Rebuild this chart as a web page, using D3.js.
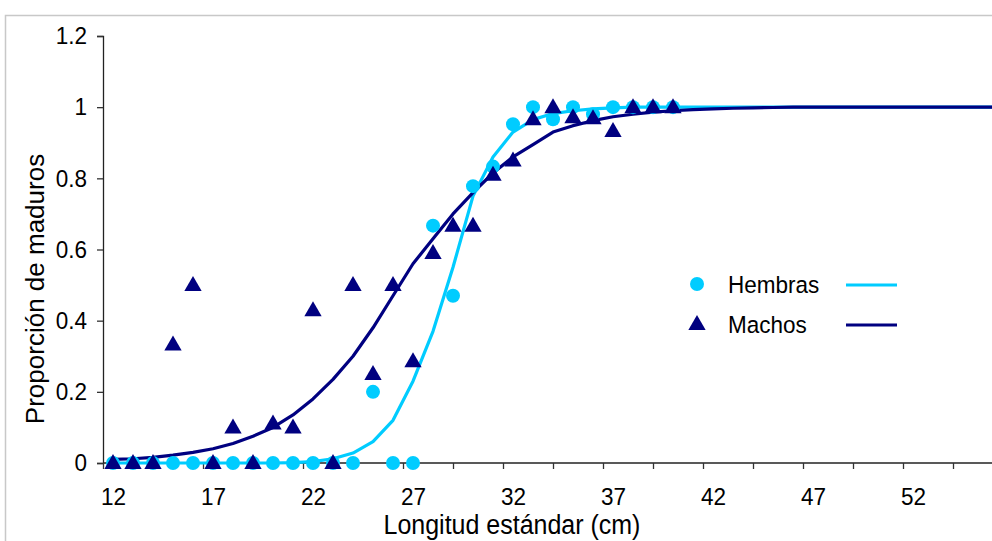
<!DOCTYPE html>
<html>
<head>
<meta charset="utf-8">
<script src="https://cdn.jsdelivr.net/npm/d3@7"></script>
<style>
  html, body { margin: 0; padding: 0; background: #ffffff; }
  svg { display: block; }
  text { font-family: Arial, "Liberation Sans", sans-serif; fill: #000; }
</style>
</head>
<body>
<svg id="chart" width="992" height="541"></svg>
<script>
// Observed proportion of mature fish by standard length (cm)
const lengths = [12, 13, 14, 15, 16, 17, 18, 19, 20, 21, 22, 23, 24, 25, 26, 27, 28, 29, 30, 31, 32, 33, 34, 35, 36, 37, 38, 39, 40];
const hembras = [0, 0, 0, 0, 0, 0, 0, 0, 0, 0, 0, 0, 0, 0.2, 0, 0, 0.667, 0.47, 0.778, 0.833, 0.952, 1, 0.966, 1, 0.98, 1, 1, 1, 1];
const machos  = [0, 0, 0, 0.333, 0.5, 0, 0.1, 0, 0.111, 0.1, 0.429, 0, 0.5, 0.25, 0.5, 0.286, 0.59, 0.667, 0.667, 0.81, 0.85, 0.966, 1, 0.972, 0.969, 0.933, 1, 1, 1];

// Fitted maturity ogives, one value per cm
const fitLengths = [12, 13, 14, 15, 16, 17, 18, 19, 20, 21, 22, 23, 24, 25, 26, 27, 28, 29, 30, 31, 32, 33, 34, 35, 36, 37, 38, 39, 40, 41, 42, 43, 44, 45, 46, 47, 48, 49, 50, 51, 52, 53, 54, 55, 56, 57];
const hembrasFit = [0, 0, 0, 0, 0, 0, 0, 0, 0, 0.001, 0.004, 0.012, 0.028, 0.06, 0.12, 0.23, 0.37, 0.55, 0.75, 0.86, 0.93, 0.965, 0.982, 0.99, 0.995, 0.998, 1, 1, 1, 1, 1, 1, 1, 1, 1, 1, 1, 1, 1, 1, 1, 1, 1, 1, 1, 1];
const machosFit  = [0.01, 0.012, 0.016, 0.022, 0.03, 0.04, 0.055, 0.075, 0.1, 0.135, 0.18, 0.235, 0.3, 0.38, 0.47, 0.56, 0.63, 0.7, 0.76, 0.815, 0.86, 0.895, 0.93, 0.948, 0.962, 0.973, 0.98, 0.986, 0.99, 0.993, 0.995, 0.997, 0.998, 0.999, 1, 1, 1, 1, 1, 1, 1, 1, 1, 1, 1, 1];

// Axis ticks and labels
const xTickMarks = [11.5, 14, 16.5, 19, 21.5, 24, 26.5, 29, 31.5, 34, 36.5, 39, 41.5, 44, 46.5, 49, 51.5, 54];
const xTickLabels = [12, 17, 22, 27, 32, 37, 42, 47, 52];
const yTickValues = [0, 0.2, 0.4, 0.6, 0.8, 1, 1.2];
const yTickLabels = ["0", "0.2", "0.4", "0.6", "0.8", "1", "1.2"];

const seriesNames = ["Hembras", "Machos"];
const colors = { hembras: "#00CCFF", machos: "#000080" };
const FONT = "Arial, 'Liberation Sans', sans-serif";
const TALL = 1.08; // text glyphs are drawn slightly taller than wide

const svg = d3.select("#chart");
const W = 992, H = 541;

// chart area frame
svg.append("rect")
  .attr("x", 5.5).attr("y", 15.5)
  .attr("width", W + 20).attr("height", H + 20)
  .attr("fill", "#ffffff")
  .attr("stroke", "#c8c8c8")
  .attr("stroke-width", 1.5);

const x = d3.scaleLinear().domain([11.5, 56]).range([103, 993]);
const y = d3.scaleLinear().domain([0, 1.2]).range([463, 36]);

// y axis
const yAxis = svg.append("g")
  .attr("transform", `translate(${x(11.5)},0)`)
  .call(d3.axisLeft(y).tickValues(yTickValues).tickSize(6).tickPadding(10)
    .tickFormat((d, i) => yTickLabels[i]));
yAxis.selectAll("text")
  .attr("font-size", 22.5).attr("font-family", FONT)
  .attr("transform", `scale(1,${TALL})`);

// x axis tick marks
const xAxis = svg.append("g")
  .attr("transform", `translate(0,${y(0)})`)
  .call(d3.axisBottom(x).tickValues(xTickMarks).tickSize(6).tickFormat(""));

// x axis labels
const xLab = svg.append("g")
  .attr("transform", `translate(0,${y(0)})`)
  .call(d3.axisBottom(x).tickValues(xTickLabels).tickSize(0).tickPadding(23)
    .tickFormat((d) => String(d)));
xLab.select(".domain").remove();
xLab.selectAll("text")
  .attr("font-size", 22.5).attr("font-family", FONT)
  .attr("transform", `scale(1,${TALL})`);

[yAxis, xAxis].forEach(g => {
  g.select(".domain").attr("stroke", "#222").attr("stroke-width", 1.3);
  g.selectAll(".tick line").attr("stroke", "#333").attr("stroke-width", 1.3);
});
// extend x axis line to the right edge
xAxis.select(".domain").attr("d", `M${x(11.5)},0H${W}`);

// fitted curves
const line = d3.line().x(d => x(d[0])).y(d => y(d[1]));
svg.append("path")
  .datum(fitLengths.map((l, i) => [l, hembrasFit[i]]))
  .attr("d", line)
  .attr("fill", "none")
  .attr("stroke", colors.hembras)
  .attr("stroke-width", 3.2)
  .attr("stroke-linejoin", "round");
svg.append("path")
  .datum(fitLengths.map((l, i) => [l, machosFit[i]]))
  .attr("d", line)
  .attr("fill", "none")
  .attr("stroke", colors.machos)
  .attr("stroke-width", 3.2)
  .attr("stroke-linejoin", "round");

// observed points
const tri = d3.symbol().type(d3.symbolTriangle).size(130);
svg.append("g").selectAll("circle")
  .data(lengths.map((l, i) => [l, hembras[i]]))
  .join("circle")
  .attr("cx", d => x(d[0]))
  .attr("cy", d => y(d[1]))
  .attr("r", 7)
  .attr("fill", colors.hembras);
svg.append("g").selectAll("path")
  .data(lengths.map((l, i) => [l, machos[i]]))
  .join("path")
  .attr("d", tri)
  .attr("transform", d => `translate(${x(d[0])},${y(d[1]) + 1})`)
  .attr("fill", colors.machos);

// axis titles
svg.append("text")
  .attr("transform", `translate(512,534) scale(1,${TALL})`)
  .attr("text-anchor", "middle")
  .attr("font-size", 25)
  .text("Longitud estándar (cm)");
svg.append("text")
  .attr("transform", "translate(44,289) rotate(-90)")
  .attr("text-anchor", "middle")
  .attr("font-size", 26)
  .text("Proporción de maduros");

// legend
const legend = svg.append("g");
const rows = [284, 324];
legend.append("circle").attr("cx", 697).attr("cy", rows[0]).attr("r", 7).attr("fill", colors.hembras);
legend.append("path").attr("d", tri).attr("transform", `translate(697,${rows[1] + 1})`).attr("fill", colors.machos);
seriesNames.forEach((n, i) => {
  legend.append("text")
    .attr("transform", `translate(728,${rows[i]}) scale(1,${TALL})`)
    .attr("dy", "0.36em")
    .attr("font-size", 22.5)
    .text(n);
});
legend.append("line").attr("x1", 846).attr("x2", 897).attr("y1", rows[0] + 1).attr("y2", rows[0] + 1)
  .attr("stroke", colors.hembras).attr("stroke-width", 3.2);
legend.append("line").attr("x1", 846).attr("x2", 897).attr("y1", rows[1] + 1).attr("y2", rows[1] + 1)
  .attr("stroke", colors.machos).attr("stroke-width", 3.2);
</script>
</body>
</html>
